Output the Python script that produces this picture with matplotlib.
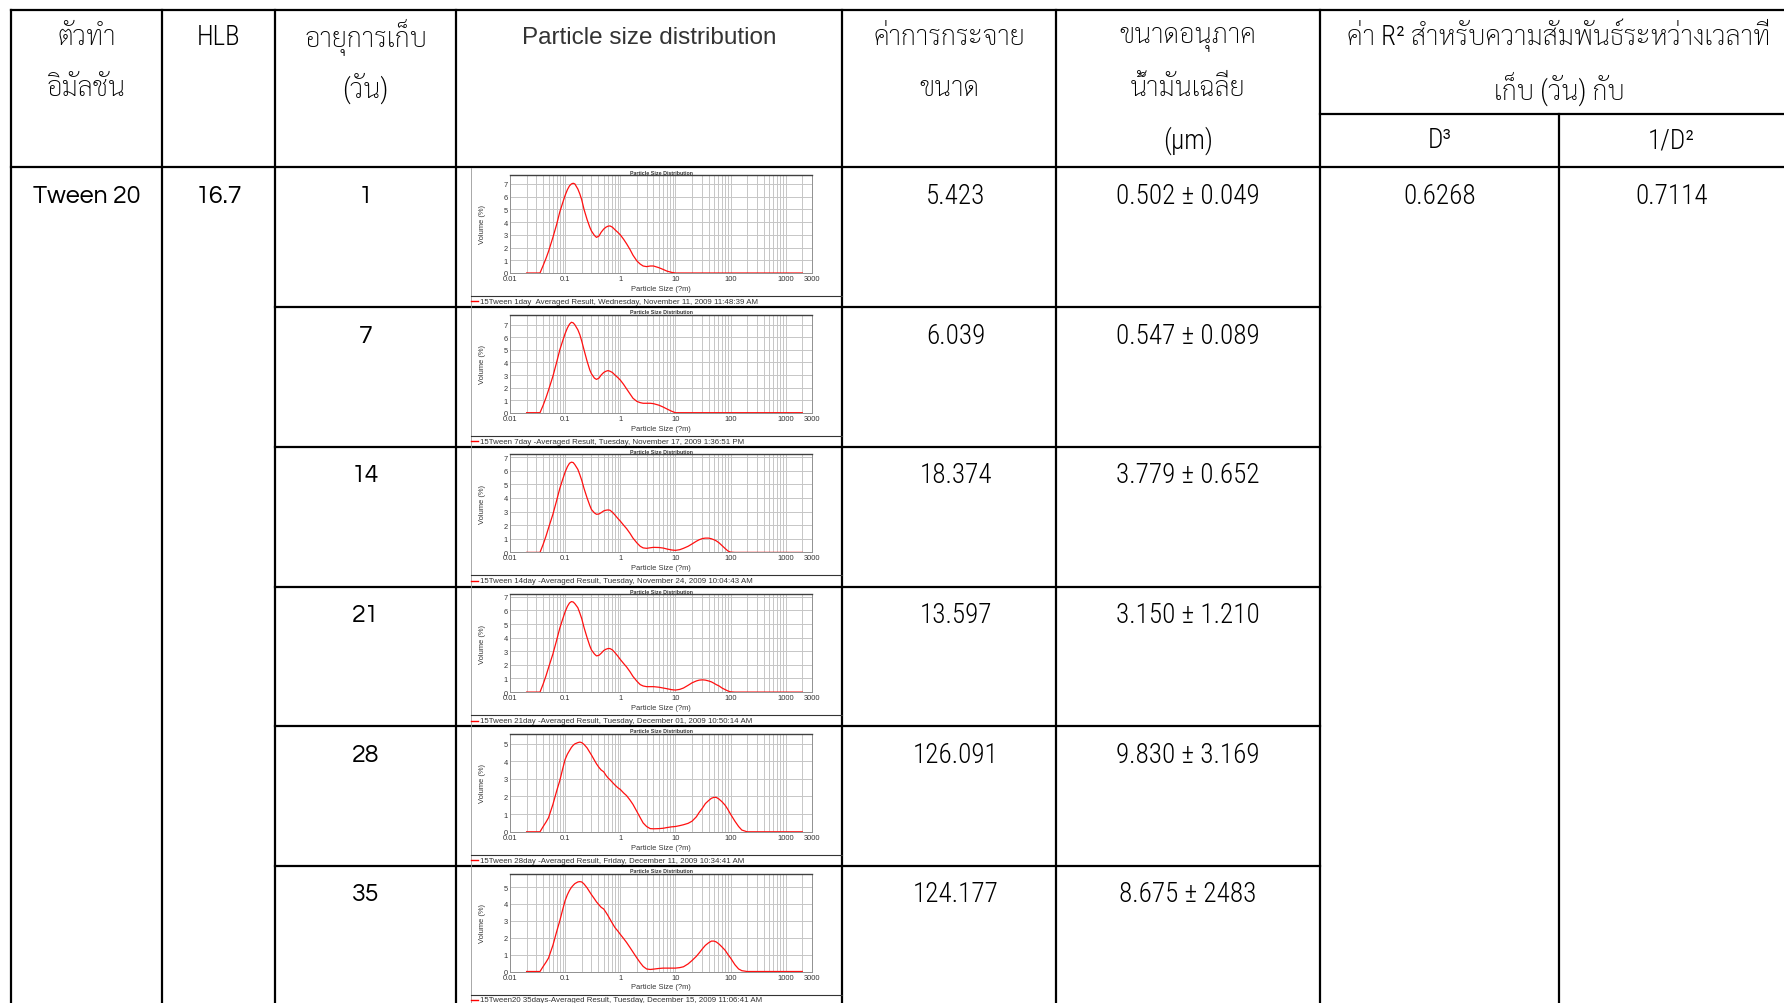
import numpy as np
import matplotlib
matplotlib.use("Agg")
import matplotlib.pyplot as plt
from matplotlib.ticker import LogLocator, NullFormatter

plt.rcParams['font.family'] = ['Liberation Sans', 'DejaVu Sans']

W, H = 1784, 1004

# ---------------- table content ----------------
emulsifier = "Tween 20"
hlb = "16.7"
days = ["1", "7", "14", "21", "28", "35"]
span = ["5.423", "6.039", "18.374", "13.597", "126.091", "124.177"]
mean_size = ["0.502 ± 0.049", "0.547 ± 0.089", "3.779 ± 0.652",
             "3.150 ± 1.210", "9.830 ± 3.169", "8.675 ± 2483"]
r2_d3 = "0.6268"
r2_inv_d2 = "0.7114"

# ---------------- particle size curves ----------------
sizes = [0.02, 0.035, 0.04, 0.045, 0.05, 0.06, 0.07, 0.08, 0.09, 0.1,
         0.11, 0.12, 0.13, 0.14, 0.15, 0.17, 0.185, 0.2, 0.22, 0.25,
         0.28, 0.3, 0.34, 0.37, 0.41, 0.45, 0.5, 0.55, 0.6, 0.65,
         0.72, 0.8, 0.9, 1.0, 1.15, 1.3, 1.5, 1.7, 2.0, 2.3,
         2.6, 3, 3.5, 4, 5, 6, 7, 8.5, 10, 12,
         14, 17, 20, 24, 27, 31, 35, 40, 45, 50,
         55, 62, 70, 80, 90, 100, 120, 140, 160, 200,
         2000]
vol_1 = [0, 0, 0.6, 1.15, 1.7, 2.8, 3.8, 4.8, 5.5, 6.1,
         6.55, 6.85, 7.0, 7.05, 7.0, 6.6, 6.2, 5.75, 5.0, 4.2,
         3.6, 3.3, 2.95, 2.8, 2.9, 3.2, 3.45, 3.6, 3.68, 3.7,
         3.6, 3.4, 3.2, 3.0, 2.65, 2.3, 1.85, 1.4, 0.95, 0.7,
         0.55, 0.5, 0.55, 0.55, 0.42, 0.28, 0.15, 0.05, 0, 0,
         0, 0, 0, 0, 0, 0, 0, 0, 0, 0,
         0, 0, 0, 0, 0, 0, 0, 0, 0, 0,
         0]
vol_7 = [0, 0, 0.6, 1.2, 1.8, 2.9, 4.0, 5.0, 5.7, 6.3,
         6.75, 7.05, 7.2, 7.15, 7.0, 6.6, 6.2, 5.7, 5.0, 4.1,
         3.4, 3.1, 2.75, 2.65, 2.75, 3.0, 3.2, 3.3, 3.35, 3.3,
         3.2, 3.0, 2.8, 2.6, 2.25, 1.9, 1.5, 1.15, 0.9, 0.8,
         0.75, 0.75, 0.75, 0.72, 0.6, 0.45, 0.3, 0.12, 0, 0,
         0, 0, 0, 0, 0, 0, 0, 0, 0, 0,
         0, 0, 0, 0, 0, 0, 0, 0, 0, 0,
         0]
vol_14 = [0, 0, 0.6, 1.2, 1.8, 2.8, 3.8, 4.7, 5.35, 5.9,
          6.3, 6.55, 6.63, 6.6, 6.45, 6.1, 5.7, 5.3, 4.7, 4.0,
          3.45, 3.15, 2.9, 2.8, 2.82, 2.92, 3.05, 3.1, 3.12, 3.1,
          2.95, 2.75, 2.5, 2.3, 2.0, 1.75, 1.4, 1.05, 0.7, 0.45,
          0.33, 0.3, 0.34, 0.37, 0.36, 0.32, 0.25, 0.18, 0.15, 0.2,
          0.3, 0.45, 0.62, 0.82, 0.93, 1.02, 1.05, 1.05, 1.0, 0.93,
          0.85, 0.7, 0.5, 0.28, 0.1, 0.02, 0, 0, 0, 0,
          0]
vol_21 = [0, 0, 0.6, 1.2, 1.8, 2.8, 3.8, 4.7, 5.35, 5.9,
          6.3, 6.55, 6.65, 6.62, 6.5, 6.2, 5.8, 5.4, 4.75, 4.0,
          3.4, 3.1, 2.8, 2.66, 2.7, 2.85, 3.05, 3.15, 3.2, 3.2,
          3.1, 2.9, 2.65, 2.4, 2.1, 1.85, 1.5, 1.15, 0.8, 0.55,
          0.45, 0.4, 0.4, 0.4, 0.36, 0.3, 0.25, 0.18, 0.15, 0.2,
          0.3, 0.5, 0.68, 0.82, 0.88, 0.9, 0.88, 0.82, 0.75, 0.65,
          0.55, 0.45, 0.3, 0.18, 0.08, 0.02, 0, 0, 0, 0,
          0]
vol_28 = [0, 0, 0.3, 0.55, 0.8, 1.55, 2.3, 2.9, 3.55, 4.1,
          4.4, 4.6, 4.78, 4.9, 4.98, 5.05, 5.08, 5.05, 4.95, 4.75,
          4.5, 4.35, 4.05, 3.85, 3.65, 3.5, 3.4, 3.2, 3.05, 2.95,
          2.8, 2.65, 2.5, 2.4, 2.2, 2.05, 1.8, 1.55, 1.15, 0.8,
          0.5, 0.3, 0.18, 0.17, 0.18, 0.2, 0.24, 0.28, 0.3, 0.35,
          0.4, 0.48, 0.6, 0.85, 1.1, 1.35, 1.6, 1.77, 1.9, 1.95,
          1.95, 1.85, 1.7, 1.5, 1.25, 1.0, 0.6, 0.3, 0.1, 0,
          0]
vol_35 = [0, 0, 0.3, 0.55, 0.8, 1.55, 2.35, 3.0, 3.65, 4.2,
          4.55, 4.8, 4.98, 5.1, 5.2, 5.3, 5.32, 5.3, 5.18, 4.95,
          4.7, 4.55, 4.3, 4.12, 3.95, 3.8, 3.7, 3.5, 3.3, 3.1,
          2.85, 2.6, 2.4, 2.2, 1.95, 1.72, 1.42, 1.15, 0.8, 0.52,
          0.3, 0.15, 0.12, 0.14, 0.18, 0.2, 0.2, 0.2, 0.2, 0.23,
          0.28, 0.45, 0.65, 0.9, 1.1, 1.35, 1.55, 1.7, 1.8, 1.8,
          1.75, 1.62, 1.45, 1.25, 1.0, 0.8, 0.4, 0.15, 0.05, 0,
          0]
volumes = [vol_1, vol_7, vol_14, vol_21, vol_28, vol_35]
y_top = [7.7, 7.8, 7.2, 7.2, 5.55, 5.8]
y_tick_max = [7, 7, 7, 7, 5, 5]
legend_texts = [
    "15Tween 1day  Averaged Result, Wednesday, November 11, 2009 11:48:39 AM",
    "15Tween 7day -Averaged Result, Tuesday, November 17, 2009 1:36:51 PM",
    "15Tween 14day -Averaged Result, Tuesday, November 24, 2009 10:04:43 AM",
    "15Tween 21day -Averaged Result, Tuesday, December 01, 2009 10:50:14 AM",
    "15Tween 28day -Averaged Result, Friday, December 11, 2009 10:34:41 AM",
    "15Tween20 35days-Averaged Result, Tuesday, December 15, 2009 11:06:41 AM",
]
x_ticks = [0.01, 0.1, 1, 10, 100, 1000, 3000]
x_tick_labels = ["0.01", "0.1", "1", "10", "100", "1000", "3000"]

# ---------------- layout (pixels) ----------------
col_x = [11, 161.6, 275.3, 456.2, 842, 1055.9, 1320, 1559, 1784]
top_y = 11.4
sub_y = 115
head_y = 168.4
row_h = 139.7
row_tops = [head_y + i * row_h for i in range(6)]

thai = ['Liberation Sans Narrow', 'Roboto Condensed', 'Sarabun']
geo = ['Questrial', 'Lato']

fig = plt.figure(figsize=(W / 100, H / 100), dpi=100)
ax = fig.add_axes([0, 0, 1, 1])
ax.set_xlim(0, W)
ax.set_ylim(H, 0)
ax.axis('off')

lw = 1.6
def hline(y, x0, x1):
    ax.plot([x0, x1], [y, y], color='black', lw=lw, solid_capstyle='projecting')
def vline(x, y0, y1):
    ax.plot([x, x], [y0, y1], color='black', lw=lw, solid_capstyle='projecting')

hline(top_y, col_x[0], W)
hline(head_y, col_x[0], W)
hline(sub_y, col_x[6], W)
for x in col_x[:7]:
    vline(x, top_y, H)
vline(col_x[7], sub_y, H)
for t in row_tops[1:]:
    hline(t, col_x[2], col_x[6])

def cx(i, j=None):
    j = i + 1 if j is None else j
    return (col_x[i] + col_x[j]) / 2

# header text
l1, l2, l3 = 37.5, 88.5, 141
fs = 19.5
tk = dict(ha='center', va='center', color='#000000')
tt = dict(family=thai, fontsize=fs, weight='light', **tk)
ax.text(cx(0), l1, "ตัวทำ", **tt)
ax.text(cx(0), l2, "อิมัลชัน", **tt)
ax.text(cx(1), l1, "HLB", **tt)
ax.text(cx(2), l1, "อายุการเก็บ", **tt)
ax.text(cx(2), l2, "(วัน)", **tt)
ax.text(cx(3), l1, "Particle size distribution", family=['Liberation Sans'], fontsize=17.5,
        ha='center', va='center', color='#333333')
ax.text(cx(4), l1, "ค่าการกระจาย", **tt)
ax.text(cx(4), l2, "ขนาด", **tt)
ax.text(cx(5), l1, "ขนาดอนุภาค", **tt)
ax.text(cx(5), l2, "น้ำมันเฉลี่ย", **tt)
ax.text(cx(5), l3, "(µm)", **tt)
ax.text(col_x[7], l1, "ค่า R² สำหรับความสัมพันธ์ระหว่างเวลาที่", **tt)
ax.text(col_x[7], l2, "เก็บ (วัน) กับ", **tt)
ax.text(cx(6), l3, "D³", **tt)
ax.text(cx(7), l3, "1/D²", **tt)

# body text
dy = 28
b0 = row_tops[0] + dy
ax.text(cx(0), b0, emulsifier, family=geo, fontsize=18, **tk)
ax.text(cx(1), b0, hlb, family=geo, fontsize=18, **tk)
ax.text(cx(6), b0, r2_d3, **tt)
ax.text(cx(7), b0, r2_inv_d2, **tt)
for i, t in enumerate(row_tops):
    ax.text(cx(2), t + dy, days[i], family=geo, fontsize=18, **tk)
    ax.text(cx(4) + 7, t + dy, span[i], **tt)
    ax.text(cx(5), t + dy, mean_size[i], **tt)

# ---------------- small particle size charts ----------------
img_x0, img_x1 = 471, col_x[4]
plot_x0, plot_x1 = 510, 812

def fig_box(x0, y0, x1, y1):
    return [x0 / W, 1 - y1 / H, (x1 - x0) / W, (y1 - y0) / H]

for i, t in enumerate(row_tops):
    # frame of the pasted chart and its legend strip
    ax.plot([img_x0, img_x0], [t + 1, t + row_h], color='#9a9a9a', lw=0.6)
    ax.plot([img_x0, img_x1], [t + 128.6, t + 128.6], color='#333333', lw=0.8)
    ax.plot([img_x0, img_x0 + 7], [t + 134, t + 134], color='red', lw=1.0)
    ax.text(img_x0 + 9, t + 134, legend_texts[i], fontsize=5.65, ha='left', va='center', color='#333333')

    a = fig.add_axes(fig_box(plot_x0, t + 7.6, plot_x1, t + 105.6))
    a.set_xscale('log')
    a.plot(sizes, volumes[i], color='#ff1010', lw=0.9, zorder=3)
    a.set_xlim(0.01, 3000)
    a.set_ylim(0, y_top[i])
    a.set_xticks(x_ticks)
    a.set_xticklabels(x_tick_labels)
    a.xaxis.set_minor_locator(LogLocator(base=10, subs=np.arange(2, 10)))
    a.xaxis.set_minor_formatter(NullFormatter())
    a.set_yticks(range(0, y_tick_max[i] + 1))
    a.grid(True, which='both', axis='x', color='#c6c6c6', lw=0.7)
    a.grid(True, which='major', axis='y', color='#c6c6c6', lw=0.7)
    a.tick_params(which='both', length=0, labelsize=5.4, pad=1.5, colors='#333333')
    a.set_title("Particle Size Distribution", fontsize=3.8, fontweight='bold', pad=1, color='#333333')
    a.set_xlabel("Particle Size (?m)", fontsize=5.4, labelpad=2, color='#333333')
    a.set_ylabel("Volume (%)", fontsize=5.4, labelpad=13, color='#333333')
    for s in ['left', 'right', 'bottom']:
        a.spines[s].set_color('#909090')
        a.spines[s].set_linewidth(0.7)
    a.spines['top'].set_color('#404040')
    a.spines['top'].set_linewidth(1.0)

fig.savefig("out.png", dpi=100)
